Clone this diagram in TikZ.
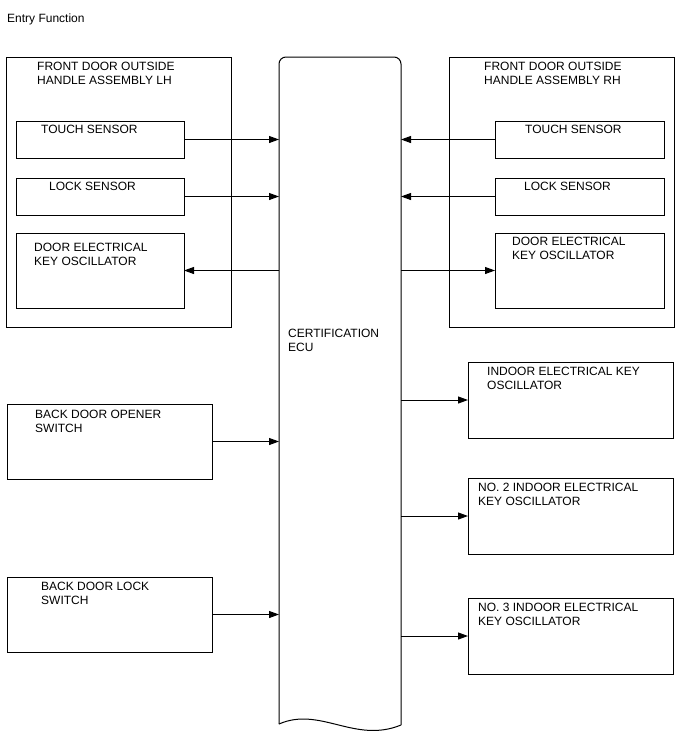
\documentclass[tikz,border=0pt]{standalone}
\usepackage{fontspec}
\setmainfont{Liberation Sans}
\usetikzlibrary{arrows.meta}
\begin{document}
\begin{tikzpicture}[x=1pt,y=-1pt,
  box/.style={draw, line width=1pt, inner sep=0pt, outer sep=0pt, anchor=north west},
  lbl/.style={anchor=base west, inner sep=0pt, align=left, font=\fontsize{12}{14}\selectfont},
  conn/.style={line width=1pt, -{Triangle[length=10pt,width=7pt]}}]
\useasboundingbox (0,0) rectangle (688,755);
\node[lbl] (title) at (7,22) {Entry Function};
% ECU
\node[inner sep=0pt, outer sep=0pt, minimum width=122, minimum height=668, anchor=north west] (ecu) at (279,57) {};
\draw[line width=1pt, rounded corners=7pt] (279,724) -- (279,57) -- (401,57) -- (401,725);
\draw[line width=1pt] (279,724) .. controls (320,706) and (355,744) .. (401,725);
\node[lbl] (ecut) at (288,351) {CERTIFICATION\\ECU};
% LH group
\node[box, minimum width=225, minimum height=270] (lh) at (6,57) {};
\node[lbl] (lht) at (37,84) {FRONT DOOR OUTSIDE\\HANDLE ASSEMBLY LH};
\node[box, minimum width=168, minimum height=37] (lhtouch) at (16,121) {};
\node[lbl] (lhtoucht) at (41,133) {TOUCH SENSOR};
\node[box, minimum width=168, minimum height=37] (lhlock) at (16,178) {};
\node[lbl] (lhlockt) at (49,190) {LOCK SENSOR};
\node[box, minimum width=168, minimum height=75] (lhosc) at (16,233) {};
\node[lbl] (lhosct) at (34,265) {DOOR ELECTRICAL\\KEY OSCILLATOR};
% RH group
\node[box, minimum width=225, minimum height=270] (rh) at (449,57) {};
\node[lbl] (rht) at (484,84) {FRONT DOOR OUTSIDE\\HANDLE ASSEMBLY RH};
\node[box, minimum width=169, minimum height=37] (rhtouch) at (495,121) {};
\node[lbl] (rhtoucht) at (525,133) {TOUCH SENSOR};
\node[box, minimum width=169, minimum height=37] (rhlock) at (495,178) {};
\node[lbl] (rhlockt) at (524,190) {LOCK SENSOR};
\node[box, minimum width=169, minimum height=75] (rhosc) at (495,233) {};
\node[lbl] (rhosct) at (512,259) {DOOR ELECTRICAL\\KEY OSCILLATOR};
% Indoor oscillators
\node[box, minimum width=205, minimum height=76] (in1) at (468,362) {};
\node[lbl] (in1t) at (487,389) {INDOOR ELECTRICAL KEY\\OSCILLATOR};
\node[box, minimum width=205, minimum height=76] (in2) at (468,478) {};
\node[lbl] (in2t) at (478,505) {NO. 2 INDOOR ELECTRICAL\\KEY OSCILLATOR};
\node[box, minimum width=205, minimum height=76] (in3) at (468,598) {};
\node[lbl] (in3t) at (478,625) {NO. 3 INDOOR ELECTRICAL\\KEY OSCILLATOR};
% Back door switches
\node[box, minimum width=205, minimum height=75] (bdo) at (7,404) {};
\node[lbl] (bdot) at (35,432) {BACK DOOR OPENER\\SWITCH};
\node[box, minimum width=205, minimum height=75] (bdl) at (7,577) {};
\node[lbl] (bdlt) at (41,604) {BACK DOOR LOCK\\SWITCH};
% connectors
\draw[conn] (lhtouch.east) -- (lhtouch.east -| ecu.west);
\draw[conn] (lhlock.east) -- (lhlock.east -| ecu.west);
\draw[conn] (lhosc.east -| ecu.west) -- (lhosc.east);
\draw[conn] (rhtouch.west) -- (rhtouch.west -| ecu.east);
\draw[conn] (rhlock.west) -- (rhlock.west -| ecu.east);
\draw[conn] (rhosc.west -| ecu.east) -- (rhosc.west);
\draw[conn] (in1.west -| ecu.east) -- (in1.west);
\draw[conn] (in2.west -| ecu.east) -- (in2.west);
\draw[conn] (in3.west -| ecu.east) -- (in3.west);
\draw[conn] (bdo.east) -- (bdo.east -| ecu.west);
\draw[conn] (bdl.east) -- (bdl.east -| ecu.west);
\end{tikzpicture}
\end{document}
